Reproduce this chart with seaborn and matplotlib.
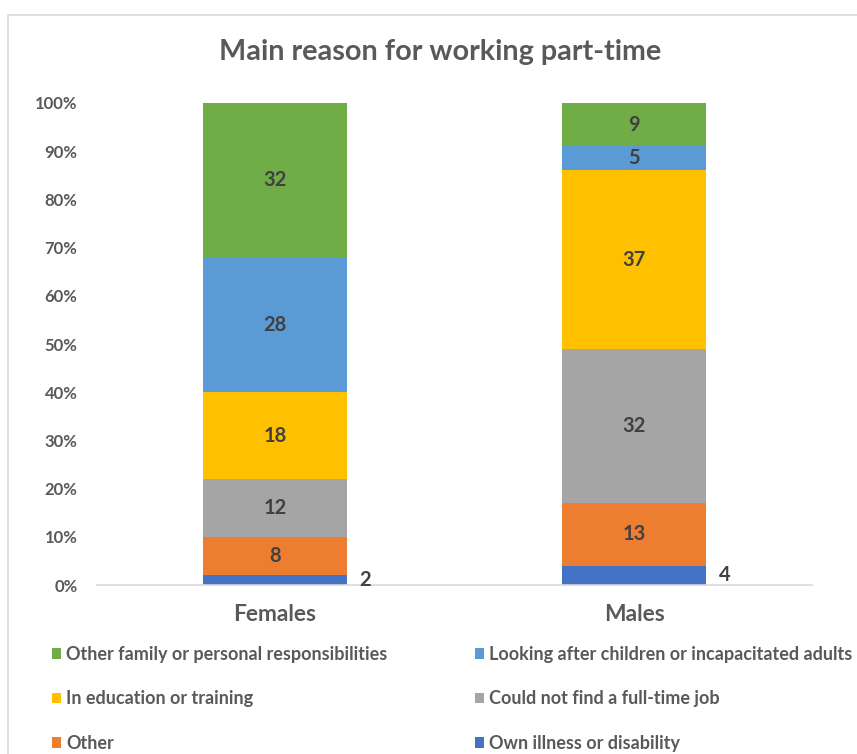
import matplotlib
matplotlib.use("Agg")
import matplotlib.pyplot as plt
from matplotlib.patches import Patch, Rectangle
from matplotlib.ticker import PercentFormatter
import numpy as np
import pandas as pd
import seaborn as sns

# Data: share of part-time workers by main reason (%)
groups = ["Females", "Males"]
reasons = [
    "Own illness or disability",
    "Other",
    "Could not find a full-time job",
    "In education or training",
    "Looking after children or incapacitated adults",
    "Other family or personal responsibilities",
]
females = [2, 8, 12, 18, 28, 32]
males = [4, 13, 32, 37, 5, 9]
palette = ["#4472C4", "#ED7D31", "#A5A5A5", "#FFC000", "#5B9BD5", "#70AD47"]

sns.set_theme(style="white")
plt.rcParams["font.family"] = ["Lato", "DejaVu Sans"]

df = pd.DataFrame({"group": np.repeat(groups, len(reasons)),
                   "reason": reasons * len(groups),
                   "value": females + males})

fig = plt.figure(figsize=(8.57, 7.54), dpi=100)
ax = fig.add_axes([0.1132, 0.2241, 0.8343, 0.6393])

# Chart frame
fig.patches.append(Rectangle((8 / 857, -0.1), 1.2, (754 - 15) / 754 + 0.1,
                             transform=fig.transFigure, fill=False,
                             edgecolor="#D9D9D9", linewidth=1.2, zorder=0))

bottom = np.zeros(len(groups))
text_dark = "#404040"
for reason, color in zip(reasons, palette):
    sub = df[df["reason"] == reason].set_index("group").loc[groups].reset_index()
    vals = sub["value"].to_numpy(dtype=float)
    sns.barplot(data=sub, x="group", y="value", order=groups, color=color,
                bottom=bottom, width=0.4, errorbar=None, ax=ax,
                saturation=1, linewidth=0)
    for i, v in enumerate(vals):
        yc = bottom[i] + v / 2
        if v < 5:
            ax.text(i + 0.235, yc, f"{v:g}", ha="left", va="center",
                    fontsize=14.5, fontweight="bold", color=text_dark)
        else:
            ax.text(i, yc, f"{v:g}", ha="center", va="center",
                    fontsize=14.5, fontweight="bold", color=text_dark)
    bottom += vals

ax.set_xlim(-0.495, 1.495)
ax.set_ylim(0, 100)
ax.set_yticks(np.arange(0, 101, 10))
ax.yaxis.set_major_formatter(PercentFormatter(100, decimals=0))
ax.set_xlabel("")
ax.set_ylabel("")
for side in ["top", "right", "left"]:
    ax.spines[side].set_visible(False)
ax.spines["bottom"].set_color("#D9D9D9")
ax.spines["bottom"].set_linewidth(1.2)
ax.tick_params(axis="y", labelsize=12, colors="#595959", length=0, pad=14)
ax.tick_params(axis="x", labelsize=16.4, colors="#595959", length=0, pad=14)
for lab in ax.get_yticklabels() + ax.get_xticklabels():
    lab.set_fontweight("bold")

fig.text(440 / 857, 1 - 52 / 754, "Main reason for working part-time",
         ha="center", va="center", fontsize=20.7, fontweight="bold",
         color="#595959")

# Two-column legend, filled row by row
def make_legend(items, x):
    handles = [Patch(facecolor=palette[reasons.index(r)], edgecolor="none")
               for r in items]
    leg = fig.legend(handles, items, loc="upper left",
                     bbox_to_anchor=(x, 1 - 646 / 754), frameon=False,
                     fontsize=13, labelspacing=1.52, handlelength=0.5,
                     handleheight=0.55, handletextpad=0.3, borderpad=0,
                     borderaxespad=0)
    for t in leg.get_texts():
        t.set_color("#595959")
        t.set_fontweight("bold")
    return leg

make_legend([reasons[5], reasons[3], reasons[1]], 52 / 857)
make_legend([reasons[4], reasons[2], reasons[0]], 475 / 857)

fig.savefig("out.png", dpi=100)
